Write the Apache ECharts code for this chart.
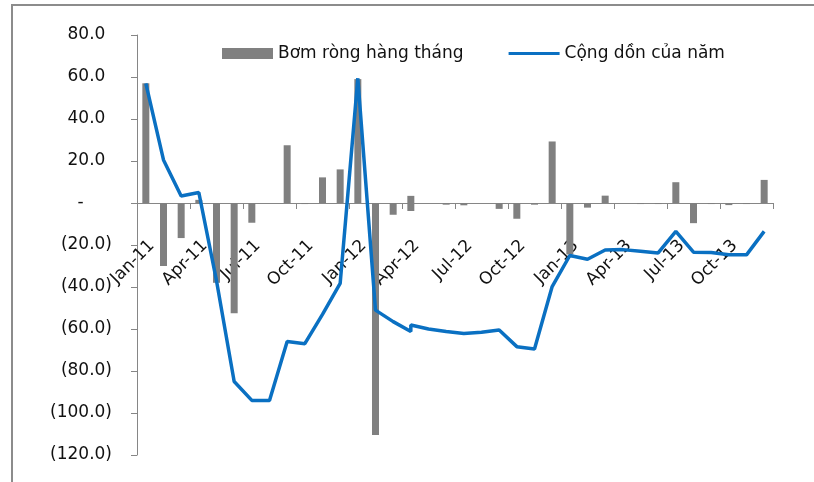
<!DOCTYPE html>
<html>
<head>
<meta charset="utf-8">
<script src="https://cdn.jsdelivr.net/npm/echarts@6/dist/echarts.min.js"></script>
<style>
  html, body { margin: 0; padding: 0; background: #ffffff; }
  #chart { width: 814px; height: 482px; }
</style>
</head>
<body>
<div id="chart"></div>
<script>
// Category axis labels (months)
var months = [
  'Jan-11','Feb-11','Mar-11','Apr-11','May-11','Jun-11','Jul-11','Aug-11','Sep-11','Oct-11','Nov-11','Dec-11',
  'Jan-12','Feb-12','Mar-12','Apr-12','May-12','Jun-12','Jul-12','Aug-12','Sep-12','Oct-12','Nov-12','Dec-12',
  'Jan-13','Feb-13','Mar-13','Apr-13','May-13','Jun-13','Jul-13','Aug-13','Sep-13','Oct-13','Nov-13','Dec-13'
];
// Data periods (Apr-12 has two entries in the source data)
var periods = [
  'Jan-11','Feb-11','Mar-11','Apr-11','May-11','Jun-11','Jul-11','Aug-11','Sep-11','Oct-11','Nov-11','Dec-11',
  'Jan-12','Feb-12','Mar-12','Apr-12','Apr-12','May-12','Jun-12','Jul-12','Aug-12','Sep-12','Oct-12','Nov-12','Dec-12',
  'Jan-13','Feb-13','Mar-13','Apr-13','May-13','Jun-13','Jul-13','Aug-13','Sep-13','Oct-13','Nov-13','Dec-13'
];
// Bơm ròng hàng tháng (monthly net injection)
var monthlyNet = [
  57, -30, -16.7, 1.5, -38, -52.5, -9.4, 0, 27.5, -0.5, 12.2, 16,
  59, -110.5, -5.6, -3.8, 3.4, 0, -0.8, -1.1, 0, -2.8, -7.5, -0.8, 29.3,
  -24.5, -2.2, 3.5, 0, -0.5, -0.5, 9.9, -9.6, -0.5, -1, -0.5, 11
];
// Cộng dồn của năm (year-to-date cumulative)
var cumulative = [
  57, 20.5, 3.3, 5, -37, -85, -94, -94, -66, -67, -53, -38.3,
  59.4, -51, -56.5, -61.2, -58.1, -60, -61.2, -62.1, -61.6, -60.5, -68.4, -69.5, -39.8,
  -25, -26.8, -22.4, -22.2, -23, -23.8, -13.5, -23.4, -23.6, -24.6, -24.7, -13.5
];
// Y axis ticks
var yMin = -120, yMax = 80, yStep = 20;

var FONT = 'DejaVu Sans';

var barData = periods.map(function (p, i) { return [months.indexOf(p), monthlyNet[i]]; });
var lineData = periods.map(function (p, i) { return [months.indexOf(p), cumulative[i]]; });

var chart = echarts.init(document.getElementById('chart'), null, { renderer: 'canvas' });
chart.setOption({
  animation: false,
  backgroundColor: '#ffffff',
  textStyle: { fontFamily: FONT },
  graphic: [{
    type: 'rect',
    shape: { x: 12, y: 5, width: 1000, height: 1000 },
    style: { fill: 'none', stroke: '#8c8c8c', lineWidth: 2 },
    silent: true
  }],
  legend: {
    left: 217,
    top: 40,
    itemGap: 45,
    itemWidth: 51,
    itemHeight: 11,
    symbolKeepAspect: true,
    textStyle: { fontFamily: FONT, fontSize: 17, color: '#111' },
    data: [
      { name: 'Bơm ròng hàng tháng', icon: 'rect' },
      { name: 'Cộng dồn của năm', icon: 'path://M0,0 H51 V3 H0 Z' }
    ]
  },
  grid: { left: 137, right: 41, top: 35, bottom: 27, containLabel: false, outerBoundsMode: 'none' },
  xAxis: {
    type: 'category',
    data: months,
    boundaryGap: true,
    axisLine: { onZero: true, lineStyle: { color: '#868686', width: 1 } },
    axisTick: { show: true, interval: 2, length: 6, lineStyle: { color: '#868686' } },
    axisLabel: {
      interval: 2,
      rotate: 45,
      margin: -218,
      verticalAlign: 'top',
      fontFamily: FONT,
      fontSize: 17,
      color: '#111'
    },
    splitLine: { show: false }
  },
  yAxis: {
    type: 'value',
    min: yMin,
    max: yMax,
    interval: yStep,
    axisLine: { show: true, lineStyle: { color: '#868686', width: 1 } },
    axisTick: { show: true, length: 6, lineStyle: { color: '#868686' } },
    splitLine: { show: false },
    axisLabel: {
      margin: 25,
      fontFamily: FONT,
      fontSize: 17,
      color: '#111',
      formatter: function (v) {
        if (v === 0) return '-{h|00)}';
        if (v > 0) return v.toFixed(1) + '{h|)}';
        return '(' + Math.abs(v).toFixed(1) + ')';
      },
      rich: {
        h: { color: 'transparent', fontFamily: FONT, fontSize: 17 }
      }
    }
  },
  series: [
    {
      name: 'Bơm ròng hàng tháng',
      type: 'bar',
      data: barData,
      barWidth: 7,
      itemStyle: { color: '#808080' },
      z: 2
    },
    {
      name: 'Cộng dồn của năm',
      type: 'line',
      data: lineData,
      symbol: 'none',
      smooth: false,
      lineStyle: { color: '#0a70c2', width: 3.5 },
      itemStyle: { color: '#0a70c2' },
      z: 3
    }
  ]
});
</script>
</body>
</html>
